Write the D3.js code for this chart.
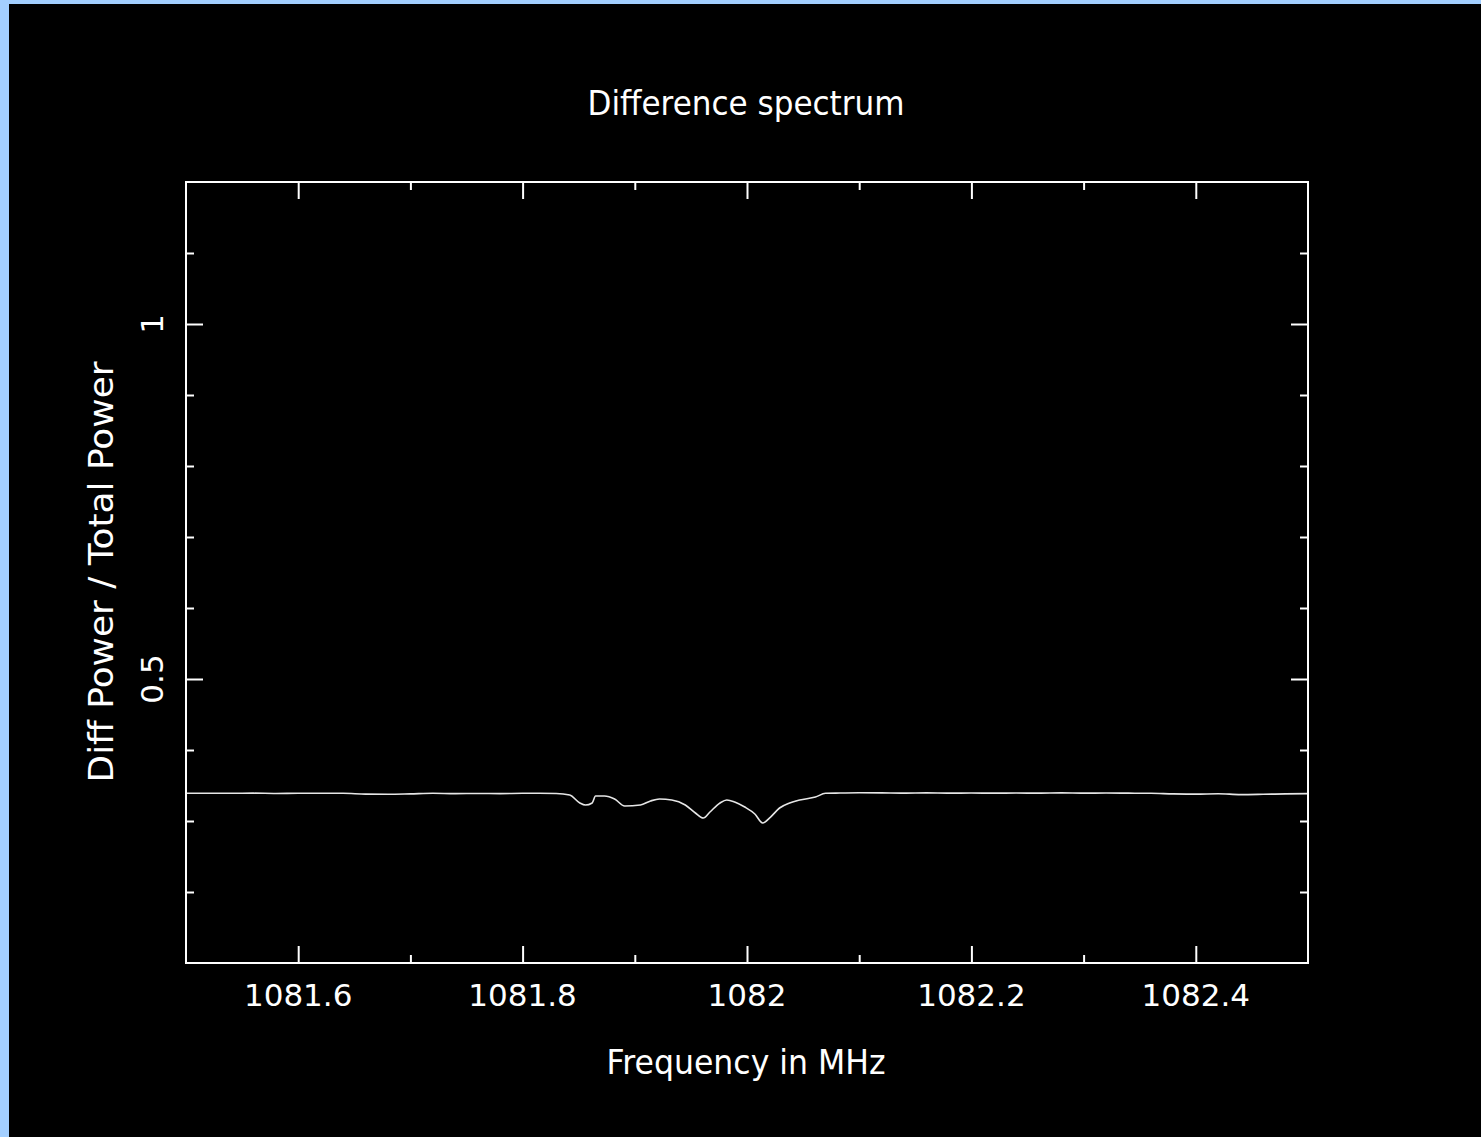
<!DOCTYPE html>
<html>
<head>
<meta charset="utf-8">
<script src="https://cdn.jsdelivr.net/npm/d3@7"></script>
<style>
  body { margin: 0; background: #a3cfff; }
  svg { display: block; }
  text { fill: #fff; font-family: "DejaVu Sans", sans-serif; }
</style>
</head>
<body>
<div class="chart"></div>
<script>
var freq = [
  1081.50, 1081.52, 1081.54, 1081.56, 1081.58, 1081.60, 1081.62, 1081.64,
  1081.66, 1081.68, 1081.70, 1081.72, 1081.74, 1081.76, 1081.78, 1081.80,
  1081.815, 1081.830, 1081.842, 1081.851, 1081.856, 1081.862, 1081.865,
  1081.873, 1081.882, 1081.891, 1081.905, 1081.914, 1081.922, 1081.933,
  1081.945, 1081.954, 1081.961, 1081.967, 1081.976, 1081.982, 1081.989,
  1081.998, 1082.007, 1082.014, 1082.021, 1082.029, 1082.038, 1082.047,
  1082.061, 1082.070, 1082.083,
  1082.10, 1082.12, 1082.14, 1082.16, 1082.18, 1082.20, 1082.22, 1082.24,
  1082.26, 1082.28, 1082.30, 1082.32, 1082.34, 1082.36, 1082.38, 1082.40,
  1082.42, 1082.44, 1082.46, 1082.48, 1082.50
];

var ratio = [
  0.3390, 0.3390, 0.3390, 0.3392, 0.3388, 0.3390, 0.3390, 0.3391,
  0.3378, 0.3376, 0.3382, 0.3390, 0.3385, 0.3388, 0.3385, 0.3390,
  0.3390, 0.3388, 0.3366, 0.3254, 0.3225, 0.3254, 0.3352,
  0.3352, 0.3310, 0.3211, 0.3225, 0.3282, 0.3310, 0.3296,
  0.3225, 0.3113, 0.3042, 0.3127, 0.3254, 0.3296, 0.3268,
  0.3197, 0.3099, 0.2972, 0.3056, 0.3183, 0.3254, 0.3296,
  0.3338, 0.3390, 0.3394,
  0.3398, 0.3396, 0.3392, 0.3396, 0.3392, 0.3394, 0.3392, 0.3394,
  0.3392, 0.3396, 0.3392, 0.3394, 0.3392, 0.3390, 0.3382, 0.3378,
  0.3384, 0.3372, 0.3376, 0.3382, 0.3386
];

var xMajor = [1081.6, 1081.8, 1082, 1082.2, 1082.4],
    xMinor = [1081.7, 1081.9, 1082.1, 1082.3],
    yMajor = [0.5, 1],
    yMinor = [0.2, 0.3, 0.4, 0.6, 0.7, 0.8, 0.9, 1.1];

var title = 'Difference spectrum',
    xTitle = 'Frequency in MHz',
    yTitle = 'Diff Power / Total Power';

var width = 1481,
    height = 1137,
    plotL = 186, plotR = 1308, plotT = 182, plotB = 963,
    majorLen = 17, minorLen = 8;

var svg = d3.select('.chart')
  .append('svg')
    .attr('width', width)
    .attr('height', height);

svg.append('rect')
    .attr('x', 9).attr('y', 4)
    .attr('width', width - 9).attr('height', height - 4)
    .attr('fill', '#000');

var x = d3.scaleLinear().domain([1081.5, 1082.5]).range([plotL, plotR]);
var y = d3.scaleLinear().domain([0.1, 1.2]).range([plotB, plotT]);

function tickAxis(axis, values, len, tx, ty) {
  var g = svg.append('g')
      .attr('transform', 'translate(' + tx + ',' + ty + ')')
      .call(axis.tickValues(values).tickSize(-len).tickFormat(''));
  g.select('.domain').remove();
  g.selectAll('line').attr('stroke', '#fff').attr('stroke-width', 2);
}

tickAxis(d3.axisBottom(x), xMajor, majorLen, 0, plotB);
tickAxis(d3.axisBottom(x), xMinor, minorLen, 0, plotB);
tickAxis(d3.axisTop(x), xMajor, majorLen, 0, plotT);
tickAxis(d3.axisTop(x), xMinor, minorLen, 0, plotT);
tickAxis(d3.axisLeft(y), yMajor, majorLen, plotL, 0);
tickAxis(d3.axisLeft(y), yMinor, minorLen, plotL, 0);
tickAxis(d3.axisRight(y), yMajor, majorLen, plotR, 0);
tickAxis(d3.axisRight(y), yMinor, minorLen, plotR, 0);

svg.append('defs').append('clipPath')
    .attr('id', 'plot')
  .append('rect')
    .attr('x', plotL).attr('y', plotT)
    .attr('width', plotR - plotL).attr('height', plotB - plotT);

var line = d3.line()
    .x(function(d, i) { return x(freq[i]); })
    .y(function(d) { return y(d); })
    .curve(d3.curveMonotoneX);

svg.append('path')
    .datum(ratio)
    .attr('clip-path', 'url(#plot)')
    .attr('d', line)
    .attr('fill', 'none')
    .attr('stroke', '#e6e6e6')
    .attr('stroke-width', 1.6);

svg.append('rect')
    .attr('x', plotL).attr('y', plotT)
    .attr('width', plotR - plotL).attr('height', plotB - plotT)
    .attr('fill', 'none')
    .attr('stroke', '#fff')
    .attr('stroke-width', 2);

// tick labels
svg.selectAll('text.xlab')
  .data(xMajor)
  .enter().append('text')
    .attr('class', 'xlab')
    .attr('x', function(d) { return x(d); })
    .attr('y', 1006)
    .attr('text-anchor', 'middle')
    .style('font-size', '31px')
    .text(function(d) { return d3.format('')(d); });

svg.selectAll('text.ylab')
  .data(yMajor)
  .enter().append('text')
    .attr('class', 'ylab')
    .attr('transform', function(d) { return 'translate(163,' + y(d) + ') rotate(-90)'; })
    .attr('text-anchor', 'middle')
    .style('font-size', '31px')
    .text(function(d) { return d3.format('')(d); });

svg.append('text')
    .attr('x', 746).attr('y', 115)
    .attr('text-anchor', 'middle')
    .attr('textLength', 317)
    .attr('lengthAdjust', 'spacingAndGlyphs')
    .style('font-size', '33px')
    .text(title);

svg.append('text')
    .attr('x', 746).attr('y', 1074)
    .attr('text-anchor', 'middle')
    .attr('textLength', 279)
    .attr('lengthAdjust', 'spacingAndGlyphs')
    .style('font-size', '33px')
    .text(xTitle);

svg.append('text')
    .attr('transform', 'translate(113,572) rotate(-90)')
    .attr('text-anchor', 'middle')
    .attr('textLength', 421)
    .attr('lengthAdjust', 'spacingAndGlyphs')
    .style('font-size', '33px')
    .text(yTitle);
</script>
</body>
</html>
